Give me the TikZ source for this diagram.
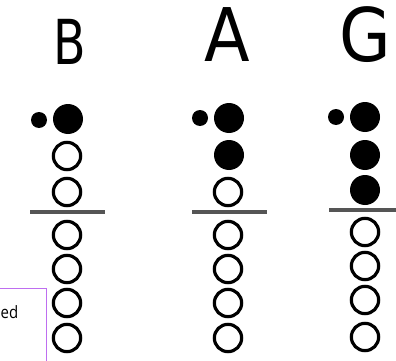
\documentclass[tikz,border=0pt]{standalone}
\usepackage{fontspec}
\setmainfont{DejaVu Sans}
\newfontfamily\tipfont{Open Sans}
\definecolor{bargray}{RGB}{85,85,85}
\definecolor{tipline}{RGB}{190,110,240}
\begin{document}
\begin{tikzpicture}[x=1pt,y=-1pt,
  openhole/.style={circle,draw=black,line width=3.2pt,minimum size=27.3pt,inner sep=0pt},
  closedhole/.style={circle,fill=black,minimum size=30pt,inner sep=0pt},
  thumbhole/.style={circle,fill=black,minimum size=16pt,inner sep=0pt},
  barline/.style={draw=bargray,line width=4pt},
  notelabel/.style={inner sep=0pt,anchor=base,font=\fontsize{74}{74}\selectfont,xscale=0.9},
  tipbox/.style={draw=tipline,line width=1pt}]
\useasboundingbox (0,0) rectangle (396,361);
\clip (0,0) rectangle (396,361);
% labels
\node[notelabel,font=\fontsize{62}{62}\selectfont,xscale=0.85] (lB) at (70,65) {B};
\node[notelabel] (lA) at (227,62) {A};
\node[notelabel] (lG) at (365,61.5) {G};
% column B
\node[thumbhole] (bT) at (39,120) {};
\node[closedhole] (b1) at (68,119) {};
\node[openhole] (b2) at (67,156) {};
\node[openhole] (b3) at (67,192) {};
\draw[barline] (30,212) -- (105,212);
\node[openhole] (b4) at (67,235) {};
\node[openhole] (b5) at (67,269) {};
\node[openhole] (b6) at (67,303) {};
\node[openhole] (b7) at (67,338) {};
% column A
\node[thumbhole] (aT) at (200,118) {};
\node[closedhole] (a1) at (229,118) {};
\node[closedhole] (a2) at (229,155) {};
\node[openhole] (a3) at (228,192) {};
\draw[barline] (192,212) -- (267,212);
\node[openhole] (a4) at (228,235) {};
\node[openhole] (a5) at (228,269) {};
\node[openhole] (a6) at (228,303) {};
\node[openhole] (a7) at (228,338) {};
% column G
\node[thumbhole] (gT) at (336,117) {};
\node[closedhole] (g1) at (365,117) {};
\node[closedhole] (g2) at (365,155) {};
\node[closedhole] (g3) at (365,190) {};
\draw[barline] (329,210) -- (396,210);
\node[openhole] (g4) at (365,232) {};
\node[openhole] (g5) at (365,266) {};
\node[openhole] (g6) at (365,300) {};
\node[openhole] (g7) at (365,337) {};
% tooltip box
\draw[tipbox] (-5,288) rectangle (46,370);
\node[anchor=base west,inner sep=0pt,xscale=0.88,font=\tipfont\fontsize{17}{17}\selectfont] (tip) at (0.5,318) {ed};
\end{tikzpicture}
\end{document}
